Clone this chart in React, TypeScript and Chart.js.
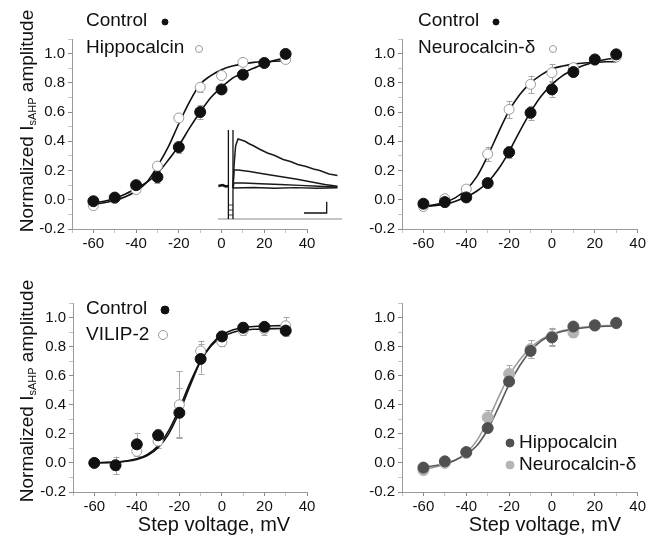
import React, { useEffect, useRef } from 'react';
import { Chart, registerables } from 'chart.js';
Chart.register(...registerables);

const FONT = '"Liberation Sans", Arial, sans-serif';

// ---- shared axes ----
const stepVoltages = [-60, -50, -40, -30, -20, -10, 0, 10, 20, 30];
const fitVoltages = [-60, -55, -50, -45, -40, -35, -30, -25, -20, -15, -10, -5, 0, 5, 10, 15, 20, 25, 30];
const xLabeledTicks = [-60, -40, -20, 0, 20, 40];
const yLabeledTicks = [-0.2, 0.0, 0.2, 0.4, 0.6, 0.8, 1.0];

// ---- panel A: Control vs Hippocalcin ----
const ctrlA = [-0.01, 0.015, 0.10, 0.155, 0.36, 0.60, 0.755, 0.856, 0.936, 0.998];
const ctrlAErr = [0.01, 0.01, 0.02, 0.04, 0.04, 0.05, 0.02, 0.015, 0.01, 0.01];
const hippoA = [-0.04, 0.01, 0.07, 0.23, 0.56, 0.77, 0.85, 0.94, 0.935, 0.96];
const hippoAErr = [0.01, 0.01, 0.02, 0.03, 0.02, 0.03, 0.02, 0.01, 0.01, 0.01];
const ctrlAFit = [-0.02, -0.01, 0.01, 0.04, 0.075, 0.12, 0.18, 0.27, 0.37, 0.49, 0.60, 0.70, 0.77, 0.83, 0.87, 0.90, 0.93, 0.955, 0.97];
const hippoAFit = [-0.03, -0.02, -0.005, 0.02, 0.06, 0.12, 0.23, 0.36, 0.52, 0.67, 0.79, 0.85, 0.89, 0.915, 0.93, 0.94, 0.945, 0.948, 0.95];

// ---- panel B: Control vs Neurocalcin-δ ----
const ctrlB = [-0.027, -0.016, 0.016, 0.114, 0.325, 0.595, 0.755, 0.874, 0.96, 0.995];
const ctrlBErr = [0.01, 0.01, 0.02, 0.02, 0.04, 0.05, 0.05, 0.02, 0.01, 0.01];
const neuroB = [-0.046, 0.007, 0.073, 0.313, 0.618, 0.79, 0.87, 0.904, 0.954, 0.977];
const neuroBErr = [0.01, 0.02, 0.02, 0.05, 0.06, 0.06, 0.06, 0.03, 0.01, 0.01];
const ctrlBFit = [-0.045, -0.04, -0.03, -0.01, 0.02, 0.06, 0.12, 0.21, 0.33, 0.47, 0.60, 0.71, 0.79, 0.85, 0.89, 0.92, 0.945, 0.96, 0.97];
const neuroBFit = [-0.045, -0.035, -0.015, 0.015, 0.07, 0.16, 0.30, 0.46, 0.61, 0.72, 0.80, 0.855, 0.895, 0.915, 0.928, 0.936, 0.94, 0.944, 0.945];

// ---- panel C: Control vs VILIP-2 ----
const ctrlC = [0.0, -0.016, 0.128, 0.19, 0.345, 0.715, 0.87, 0.93, 0.936, 0.91];
const ctrlCErr = [0.01, 0.03, 0.08, 0.04, 0.17, 0.10, 0.04, 0.04, 0.03, 0.04];
const vilipC = [0.0, -0.016, 0.08, 0.15, 0.40, 0.77, 0.833, 0.91, 0.92, 0.943];
const vilipCErr = [0.01, 0.06, 0.03, 0.05, 0.23, 0.07, 0.03, 0.03, 0.04, 0.06];
const ctrlCFit = [0.001, 0.003, 0.006, 0.013, 0.028, 0.059, 0.118, 0.222, 0.375, 0.551, 0.703, 0.807, 0.866, 0.897, 0.912, 0.919, 0.922, 0.924, 0.925];
const vilipCFit = [0.001, 0.002, 0.005, 0.011, 0.024, 0.051, 0.105, 0.20, 0.35, 0.53, 0.70, 0.815, 0.88, 0.915, 0.93, 0.938, 0.942, 0.944, 0.945];

// ---- panel D: Hippocalcin vs Neurocalcin-δ ----
const hippoD = [-0.032, 0.011, 0.075, 0.24, 0.56, 0.77, 0.863, 0.938, 0.947, 0.963];
const hippoDErr = [0.01, 0.01, 0.02, 0.03, 0.02, 0.03, 0.06, 0.02, 0.01, 0.01];
const neuroD = [-0.05, 0.0, 0.068, 0.313, 0.612, 0.783, 0.87, 0.897, 0.943, 0.96];
const neuroDErr = [0.01, 0.01, 0.02, 0.05, 0.06, 0.06, 0.06, 0.03, 0.01, 0.01];
const hippoDFit = [-0.03, -0.02, -0.005, 0.02, 0.06, 0.12, 0.23, 0.38, 0.54, 0.67, 0.77, 0.84, 0.88, 0.905, 0.92, 0.93, 0.935, 0.94, 0.94];
const neuroDFit = [-0.045, -0.03, -0.01, 0.02, 0.07, 0.155, 0.29, 0.45, 0.60, 0.71, 0.79, 0.85, 0.885, 0.91, 0.925, 0.935, 0.94, 0.945, 0.945];

// ---- inset traces (time ms, amplitude pA) ----
const insetPreStim = [[-14, 2], [-10, 3], [-7, 1.5], [-4.4, 2]];
const insetTrace1 = [[0, 0], [1, 22], [2.5, 42], [4.8, 49], [8, 48], [12, 46.5], [15, 44.5], [20, 42], [26, 38.5], [33, 35], [40, 32.5], [48, 28.5], [55, 26.5], [62, 23.5], [70, 21.5], [77, 19], [83, 17.5], [92, 14], [100, 12.5]];
const insetTrace2 = [[0, 0], [1, 18], [5, 18], [16, 16.5], [30, 14], [45, 11.5], [60, 9], [74, 6.3], [88, 3.5], [100, 1.8]];
const insetTrace3 = [[0, 0], [1, 5], [10, 5], [26, 4.3], [45, 3.5], [64, 2.6], [82, 1.8], [100, 1]];
const insetTrace4 = [[0, 0], [20, 0.5], [40, -0.3], [60, 0.4], [80, -0.2], [100, 0.3]];
const insetStim1 = [[-4.4, -31], [-4.4, 58]];
const insetStim2 = [[0, -31], [0, 58]];
const insetStimBoxes = [[-4.4, -17], [0, -17], null, [-4.4, -22], [0, -22], null, [-4.4, -27], [0, -27]];
const insetBaseline = [[-14.4, -31], [104.3, -31]];
const insetScaleBar = [[68, -25], [89.7, -25], [89.7, -13.7]];

const CANVAS_W = 648;
const CANVAS_H = 536;

const openPt = { fill: '#ffffff', stroke: '#9a9a9a' };
const darkPt = { fill: '#111111', stroke: '#111111' };

const panels = [
  {
    key: 'A',
    area: { left: 72, right: 307, top: 39, bottom: 229 },
    points: [
      { label: 'Control', values: ctrlA, errors: ctrlAErr, ...darkPt, r: 5.5 },
      { label: 'Hippocalcin', values: hippoA, errors: hippoAErr, ...openPt, r: 5 },
    ],
    fits: [
      { label: 'Control fit', values: ctrlAFit, color: '#111', width: 1.6 },
      { label: 'Hippocalcin fit', values: hippoAFit, color: '#111', width: 1.6 },
    ],
    legend: [
      { text: 'Control', tx: 86, ty: 21, mx: 165, my: 22, r: 3, ...darkPt },
      { text: 'Hippocalcin', tx: 86, ty: 48, mx: 199, my: 49, r: 3.5, ...openPt },
    ],
    yTitle: { x: 26, y: 121 },
    xTitle: null,
  },
  {
    key: 'B',
    area: { left: 402, right: 638, top: 39, bottom: 229 },
    points: [
      { label: 'Control', values: ctrlB, errors: ctrlBErr, ...darkPt, r: 5.5 },
      { label: 'Neurocalcin-δ', values: neuroB, errors: neuroBErr, ...openPt, r: 5 },
    ],
    fits: [
      { label: 'Control fit', values: ctrlBFit, color: '#111', width: 1.6 },
      { label: 'Neurocalcin-δ fit', values: neuroBFit, color: '#111', width: 1.6 },
    ],
    legend: [
      { text: 'Control', tx: 418, ty: 21, mx: 496, my: 22, r: 3, ...darkPt },
      { text: 'Neurocalcin-δ', tx: 418, ty: 48, mx: 553, my: 49, r: 3.5, ...openPt },
    ],
    yTitle: null,
    xTitle: null,
  },
  {
    key: 'C',
    area: { left: 73, right: 307, top: 303, bottom: 492 },
    points: [
      { label: 'Control', values: ctrlC, errors: ctrlCErr, ...darkPt, r: 5.5 },
      { label: 'VILIP-2', values: vilipC, errors: vilipCErr, ...openPt, r: 5 },
    ],
    fits: [
      { label: 'Control fit', values: ctrlCFit, color: '#111', width: 1.6 },
      { label: 'VILIP-2 fit', values: vilipCFit, color: '#111', width: 1.6 },
    ],
    legend: [
      { text: 'Control', tx: 86, ty: 309, mx: 165, my: 310, r: 4, ...darkPt },
      { text: 'VILIP-2', tx: 86, ty: 335, mx: 163, my: 335, r: 4.5, ...openPt },
    ],
    yTitle: { x: 26, y: 391 },
    xTitle: { x: 214, y: 531 },
  },
  {
    key: 'D',
    area: { left: 402, right: 638, top: 303, bottom: 492 },
    points: [
      { label: 'Hippocalcin', values: hippoD, errors: hippoDErr, fill: '#505050', stroke: '#505050', r: 5.5 },
      { label: 'Neurocalcin-δ', values: neuroD, errors: neuroDErr, fill: '#b4b4b4', stroke: '#b4b4b4', r: 5.5 },
    ],
    fits: [
      { label: 'Hippocalcin fit', values: hippoDFit, color: '#5a5a5a', width: 1.6 },
      { label: 'Neurocalcin-δ fit', values: neuroDFit, color: '#9c9c9c', width: 1.6 },
    ],
    legend: [
      { text: 'Hippocalcin', tx: 519, ty: 443, mx: 510, my: 443, r: 4, fill: '#505050', stroke: '#505050' },
      { text: 'Neurocalcin-δ', tx: 519, ty: 465, mx: 510, my: 465, r: 4, fill: '#b4b4b4', stroke: '#b4b4b4' },
    ],
    yTitle: null,
    xTitle: { x: 545, y: 531 },
  },
];

const Y_AXIS_W = 50;
const X_AXIS_H = 30;

function isMajorY(v: number) {
  return yLabeledTicks.some((t) => Math.abs(t - v) < 1e-6);
}
function isMajorX(v: number) {
  return xLabeledTicks.some((t) => Math.abs(t - v) < 1e-6);
}

function drawYTitle(ctx: CanvasRenderingContext2D, cx: number, cy: number) {
  const big = `19px ${FONT}`;
  const small = `11px ${FONT}`;
  const a = 'Normalized I';
  const b = 'sAHP';
  const c = ' amplitude';
  ctx.save();
  ctx.translate(cx, cy);
  ctx.rotate(-Math.PI / 2);
  ctx.fillStyle = '#111';
  ctx.textAlign = 'left';
  ctx.textBaseline = 'alphabetic';
  ctx.font = big;
  const wa = ctx.measureText(a).width;
  const wc = ctx.measureText(c).width;
  ctx.font = small;
  const wb = ctx.measureText(b).width;
  let x = -(wa + wb + wc) / 2;
  ctx.font = big;
  ctx.fillText(a, x, 7);
  x += wa;
  ctx.font = small;
  ctx.fillText(b, x, 10);
  x += wb;
  ctx.font = big;
  ctx.fillText(c, x, 7);
  ctx.restore();
}

function decoPlugin(p: any) {
  return {
    id: 'deco' + p.key,
    beforeDatasetsDraw(chart: any) {
      const ctx = chart.ctx;
      const xs = chart.scales.x;
      const ys = chart.scales.y;
      ctx.save();
      chart.data.datasets.forEach((ds: any) => {
        if (!ds.errors) return;
        ctx.strokeStyle = '#a6a6a6';
        ctx.lineWidth = 1;
        ds.data.forEach((pt: any, j: number) => {
          const e = ds.errors[j];
          if (!e) return;
          const px = Math.round(xs.getPixelForValue(pt.x)) + 0.5;
          const y1 = ys.getPixelForValue(pt.y + e);
          const y2 = ys.getPixelForValue(pt.y - e);
          ctx.beginPath();
          ctx.moveTo(px, y1);
          ctx.lineTo(px, y2);
          ctx.moveTo(px - 3, Math.round(y1) + 0.5);
          ctx.lineTo(px + 3, Math.round(y1) + 0.5);
          ctx.moveTo(px - 3, Math.round(y2) + 0.5);
          ctx.lineTo(px + 3, Math.round(y2) + 0.5);
          ctx.stroke();
        });
      });
      ctx.restore();
    },
    afterDraw(chart: any) {
      const ctx = chart.ctx;
      ctx.save();
      p.legend.forEach((it: any) => {
        ctx.font = `19px ${FONT}`;
        ctx.fillStyle = '#111';
        ctx.textAlign = 'left';
        ctx.textBaseline = 'middle';
        ctx.fillText(it.text, it.tx, it.ty);
        ctx.beginPath();
        ctx.arc(it.mx, it.my, it.r, 0, Math.PI * 2);
        ctx.fillStyle = it.fill;
        ctx.fill();
        ctx.strokeStyle = it.stroke;
        ctx.lineWidth = 1;
        ctx.stroke();
      });
      if (p.yTitle) drawYTitle(ctx, p.yTitle.x, p.yTitle.y);
      if (p.xTitle) {
        ctx.font = `20px ${FONT}`;
        ctx.fillStyle = '#111';
        ctx.textAlign = 'center';
        ctx.textBaseline = 'alphabetic';
        ctx.fillText('Step voltage, mV', p.xTitle.x, p.xTitle.y);
      }
      ctx.restore();
    },
  };
}

function buildConfig(p: any) {
  const datasets: any[] = [];
  p.points.forEach((s: any) =>
    datasets.push({
      label: s.label,
      data: stepVoltages.map((v, i) => ({ x: v, y: s.values[i] })),
      errors: s.errors,
      showLine: false,
      pointRadius: s.r,
      pointHoverRadius: s.r,
      pointBackgroundColor: s.fill,
      pointBorderColor: s.stroke,
      pointBorderWidth: 1,
      backgroundColor: s.fill,
      borderColor: s.stroke,
    })
  );
  p.fits.forEach((s: any) =>
    datasets.push({
      label: s.label,
      data: fitVoltages.map((v, i) => ({ x: v, y: s.values[i] })),
      showLine: true,
      pointRadius: 0,
      pointHoverRadius: 0,
      borderColor: s.color,
      borderWidth: s.width,
      cubicInterpolationMode: 'monotone',
      fill: false,
    })
  );
  const tickFont = { family: FONT, size: 15 };
  const axisColor = '#9a9a9a';
  return {
    type: 'scatter',
    data: { datasets },
    options: {
      animation: false,
      responsive: false,
      devicePixelRatio: 1,
      events: [],
      layout: {
        padding: {
          left: p.area.left - Y_AXIS_W,
          top: p.area.top,
          right: CANVAS_W - p.area.right,
          bottom: CANVAS_H - p.area.bottom - X_AXIS_H,
        },
      },
      plugins: { legend: { display: false }, tooltip: { enabled: false } },
      scales: {
        x: {
          type: 'linear',
          min: -70,
          max: 40,
          afterFit: (s: any) => {
            s.height = X_AXIS_H;
          },
          ticks: {
            stepSize: 10,
            maxTicksLimit: 100,
            autoSkip: false,
            maxRotation: 0,
            padding: 2,
            color: '#111',
            font: tickFont,
            callback: (v: number) => (isMajorX(v) ? String(v) : ''),
          },
          grid: {
            display: true,
            drawOnChartArea: false,
            drawTicks: true,
            tickLength: 4,
            tickColor: (c: any) => (c.tick && isMajorX(c.tick.value) ? '#8a8a8a' : '#c4c4c4'),
          },
          border: { display: true, color: axisColor, width: 1 },
        },
        y: {
          type: 'linear',
          min: -0.2,
          max: 1.1,
          afterFit: (s: any) => {
            s.width = Y_AXIS_W;
          },
          ticks: {
            stepSize: 0.1,
            maxTicksLimit: 100,
            autoSkip: false,
            padding: 3,
            color: '#111',
            font: tickFont,
            callback: (v: number) => (isMajorY(v) ? v.toFixed(1) : ''),
          },
          grid: {
            display: true,
            drawOnChartArea: false,
            drawTicks: true,
            tickLength: 4,
            tickColor: (c: any) => (c.tick && isMajorY(c.tick.value) ? '#8a8a8a' : '#c4c4c4'),
          },
          border: { display: true, color: axisColor, width: 1 },
        },
      },
    },
    plugins: [decoPlugin(p)],
  };
}

function toXY(arr: any[]) {
  return arr.map((q) => (q ? { x: q[0], y: q[1] } : { x: -2, y: null }));
}

function buildInsetConfig() {
  const line = (label: string, arr: any[], color: string, width: number) => ({
    label,
    data: toXY(arr),
    showLine: true,
    spanGaps: false,
    pointRadius: 0,
    borderColor: color,
    borderWidth: width,
    tension: 0,
    fill: false,
  });
  return {
    type: 'scatter',
    data: {
      datasets: [
        line('pre', insetPreStim, '#111', 2.5),
        line('trace1', insetTrace1, '#1a1a1a', 1.5),
        line('trace2', insetTrace2, '#1a1a1a', 1.5),
        line('trace3', insetTrace3, '#1a1a1a', 1.4),
        line('trace4', insetTrace4, '#1a1a1a', 1.4),
        line('stim1', insetStim1, '#111', 1.3),
        line('stim2', insetStim2, '#111', 1.3),
        line('stimBoxes', insetStimBoxes, '#444', 1),
        line('baseline', insetBaseline, '#8a8a8a', 1),
        line('scale', insetScaleBar, '#111', 1.3),
      ],
    },
    options: {
      animation: false,
      responsive: false,
      devicePixelRatio: 1,
      events: [],
      layout: { padding: 0 },
      plugins: { legend: { display: false }, tooltip: { enabled: false } },
      scales: {
        x: { type: 'linear', min: -22, max: 112, display: false },
        y: { type: 'linear', min: -42, max: 63, display: false },
      },
    },
  };
}

function PanelChart({ p }: { p: any }) {
  const ref = useRef<HTMLCanvasElement | null>(null);
  useEffect(() => {
    if (!ref.current) return;
    const chart = new Chart(ref.current, buildConfig(p) as any);
    return () => chart.destroy();
  }, [p]);
  return (
    <canvas
      ref={ref}
      width={CANVAS_W}
      height={CANVAS_H}
      style={{ position: 'absolute', left: 0, top: 0, width: CANVAS_W, height: CANVAS_H, display: 'block' }}
    />
  );
}

function InsetChart() {
  const ref = useRef<HTMLCanvasElement | null>(null);
  useEffect(() => {
    if (!ref.current) return;
    const chart = new Chart(ref.current, buildInsetConfig() as any);
    return () => chart.destroy();
  }, []);
  return (
    <canvas
      ref={ref}
      width={140}
      height={105}
      style={{ position: 'absolute', left: 210, top: 125, width: 140, height: 105, display: 'block' }}
    />
  );
}

export default function App() {
  return (
    <div
      style={{
        position: 'absolute',
        left: 0,
        top: 0,
        width: CANVAS_W,
        height: CANVAS_H,
        background: '#ffffff',
        overflow: 'hidden',
      }}
    >
      {panels.map((p) => (
        <PanelChart key={p.key} p={p} />
      ))}
      <InsetChart />
    </div>
  );
}
